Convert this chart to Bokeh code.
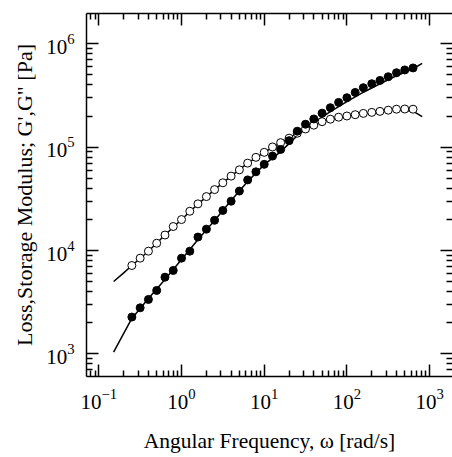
from bokeh.embed import file_html
from bokeh.models import ColumnDataSource, CustomJSTickFormatter, FixedTicker, LogAxis, Title
from bokeh.plotting import figure
from bokeh.resources import INLINE

# Measured frequency sweep (rad/s)
omega = [0.251, 0.316, 0.398, 0.501, 0.631, 0.794, 1.0, 1.26, 1.58, 2.0,
         2.51, 3.16, 3.98, 5.01, 6.31, 7.94, 10.0, 12.6, 15.8, 20.0,
         25.1, 31.6, 39.8, 50.1, 63.1, 79.4, 100.0, 126.0, 158.0, 200.0,
         251.0, 316.0, 398.0, 501.0, 631.0]

# Storage modulus G' (Pa)
g_storage = [2270, 2790, 3360, 4110, 5520, 6410, 8430, 9850, 13500, 16100,
             19600, 24400, 30000, 37600, 48200, 57700, 68200, 81900, 95000, 115600,
             142700, 166800, 187300, 213100, 240700, 270900, 300800, 338400, 375800, 410700,
             442000, 479900, 524600, 558400, 583700]

# Loss modulus G'' (Pa)
g_loss = [7160, 8430, 9850, 11760, 14120, 17060, 19930, 23970, 28270, 33240,
          38850, 45200, 52450, 60350, 70050, 79690, 89070, 100400, 110500, 122200,
          136500, 149900, 163200, 176400, 186400, 194900, 200200, 206100, 212100, 216900,
          221800, 227800, 232900, 233900, 232900]

# Model curves
omega_fit = [0.151, 0.2, 0.251, 0.398, 0.631, 1.0, 1.585, 2.512, 3.981, 6.31,
             10.0, 15.85, 25.12, 39.81, 63.1, 100.0, 158.5, 251.2, 398.1, 631.0, 813.0]
g_storage_fit = [1041, 1578, 2203, 3438, 5245, 8185, 12770, 19490, 30420, 46420,
                 67740, 90480, 129150, 172500, 220300, 275200, 340000, 410700, 490800, 573400,
                 645000]
g_loss_fit = [5017, 6075, 7164, 9845, 14120, 19930, 28140, 38850, 52450, 70050,
              89070, 110500, 136500, 163200, 186400, 200200, 212100, 221800, 230300, 222800,
              197000]

x_major = [0.1, 1, 10, 100, 1000]
y_major = [1e3, 1e4, 1e5, 1e6]
x_minor = [m * 10.0 ** e for e in range(-2, 4) for m in range(2, 10)]
y_minor = [m * 10.0 ** e for e in range(2, 7) for m in range(2, 10)]

FONT = "Liberation Serif"

p = figure(
    width=452, height=457,
    x_axis_type="log", y_axis_type="log",
    x_range=(10 ** -1.149, 10 ** 3.277),
    y_range=(10 ** 2.781, 10 ** 6.293),
    output_backend="svg", toolbar_location=None,
    min_border_left=86, min_border_right=0,
    min_border_top=13, min_border_bottom=81,
)
p.xgrid.visible = False
p.ygrid.visible = False
p.outline_line_color = None
p.background_fill_color = "white"
p.border_fill_color = "white"

p.add_layout(LogAxis(), "above")
p.add_layout(LogAxis(), "right")


def style_axis(ax, major, minor, show_labels, show_line=True):
    ax.ticker = FixedTicker(ticks=major, minor_ticks=minor)
    ax.major_tick_in = 12
    ax.major_tick_out = 0
    ax.minor_tick_in = 6
    ax.minor_tick_out = 0
    ax.axis_line_width = 1.5
    ax.major_tick_line_width = 1.5
    ax.minor_tick_line_width = 1.5
    ax.axis_line_color = "black" if show_line else None
    ax.major_tick_line_color = "black"
    ax.minor_tick_line_color = "black"
    ax.major_label_text_font = FONT
    ax.major_label_text_color = "black"
    if show_labels:
        ax.major_label_text_font_size = "21px"
        ax.major_label_standoff = 12
    else:
        ax.formatter = CustomJSTickFormatter(code="return ''")
        ax.major_label_text_font_size = "1px"
        ax.major_label_standoff = 0


style_axis(p.below[0], x_major, x_minor, True)
style_axis(p.above[0], x_major, x_minor, False)
style_axis(p.left[0], y_major, y_minor, True)
style_axis(p.right[0], y_major, y_minor, False, show_line=False)

xa = p.below[0]
xa.axis_label = "Angular Frequency, \u03c9 [rad/s]"
xa.axis_label_text_font = FONT
xa.axis_label_text_font_size = "21.5px"
xa.axis_label_text_font_style = "normal"
xa.axis_label_text_color = "black"
xa.axis_label_standoff = 17

# y-axis title in the left side panel
p.add_layout(Title(
    text="Loss,Storage Modulus; G',G\" [Pa]", align="center", offset=20,
    text_font=FONT, text_font_size="22px", text_font_style="normal",
    text_color="black", standoff=14,
), "left")

fit = ColumnDataSource(dict(w=omega_fit, gs=g_storage_fit, gl=g_loss_fit))
pts = ColumnDataSource(dict(w=omega, gs=g_storage, gl=g_loss))

p.line("w", "gs", source=fit, line_color="black", line_width=1.5)
p.line("w", "gl", source=fit, line_color="black", line_width=1.5)

p.scatter("w", "gl", source=pts, marker="circle", size=8,
          fill_color="white", line_color="black", line_width=1)
p.scatter("w", "gs", source=pts, marker="circle", size=8,
          fill_color="black", line_color="black", line_width=1)

open("out.html", "w").write(file_html(p, INLINE))
